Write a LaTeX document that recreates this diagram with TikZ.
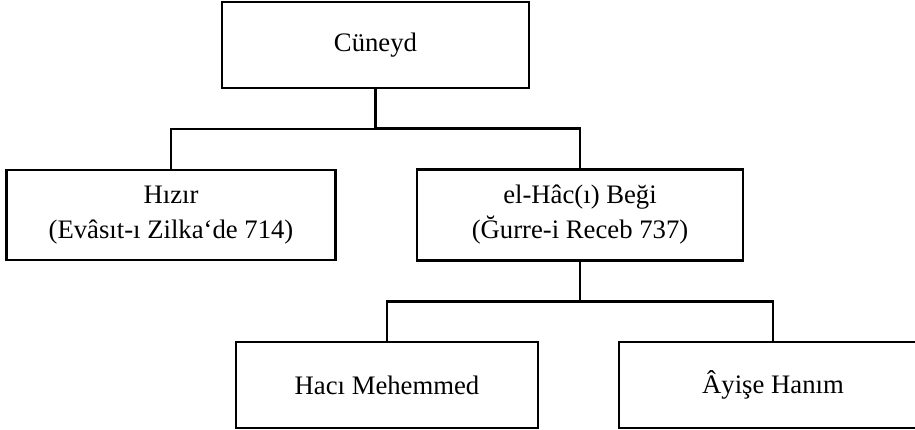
\documentclass[tikz,border=0pt]{standalone}
\usepackage{fontspec}
\setmainfont{Liberation Serif}
\usetikzlibrary{calc}

\begin{document}
\begin{tikzpicture}[
		line width=2.8pt,
		level distance=170pt,
		level 1/.style={sibling distance=409pt},
		level 2/.style={sibling distance=386pt},
		kutu/.style={rectangle,draw,inner sep=0pt,minimum height=86pt,align=center,font=\fontsize{26.7}{35}\selectfont},
		edge from parent/.style={draw=none}
	]
	\useasboundingbox (0,0) rectangle (915pt,-429pt);
	\node[kutu,minimum width=307pt] (cuneyd) at (375.5pt,-45pt) {Cüneyd}
	child {node[kutu,minimum width=329pt,minimum height=90pt] (hizir) {Hızır\\(Evâsıt-ı Zilka‘de 714)}}
	child {
			node[kutu,minimum width=326pt,minimum height=91pt] (hac) {el-Hâc(ı) Beği\\(Ğurre-i Receb 737)}
			child {node[kutu,minimum width=302pt] (mehemmed) {Hacı Mehemmed}}
			child {node[kutu,minimum width=308pt] (ayise) {Âyişe Hanım}}
		};

	% baglantilar
	\draw (cuneyd.south) |- ($(cuneyd.south)!.5!(hizir.north)$) -| (hizir.north);
	\draw (cuneyd.south) |- ($(cuneyd.south)!.5!(hac.north)$) -| (hac.north);
	\draw (hac.south) |- ($(hac.south)!.5!(mehemmed.north)$) -| (mehemmed.north);
	\draw (hac.south) |- ($(hac.south)!.5!(ayise.north)$) -| (ayise.north);
\end{tikzpicture}
\end{document}
